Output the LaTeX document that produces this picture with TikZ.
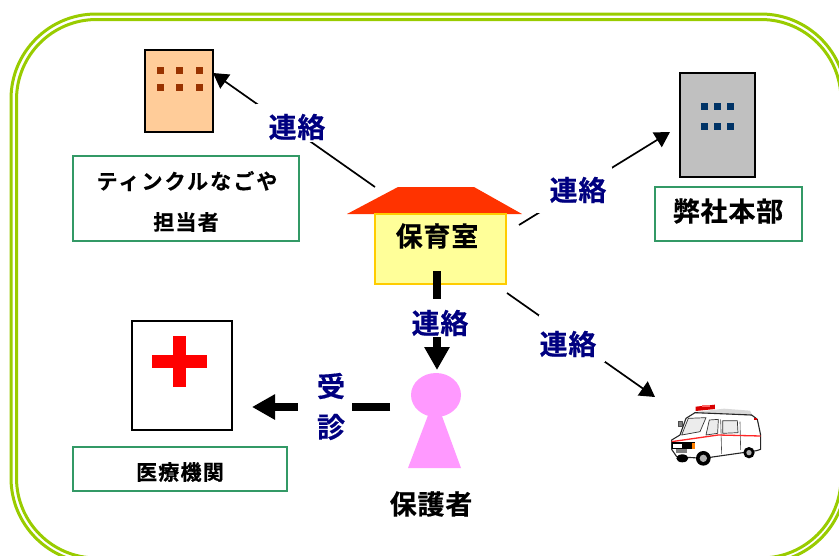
\documentclass[tikz,border=0pt]{standalone}
\usepackage{fontspec}
\usetikzlibrary{arrows.meta}
\newfontfamily\jp[LetterSpace=6,FakeBold=0.5]{Noto Sans CJK JP Bold}
\newfontfamily\jpw[LetterSpace=10,FakeBold=0.5]{Noto Sans CJK JP Bold}
\newfontfamily\jpn[LetterSpace=3,FakeBold=0.5]{Noto Sans CJK JP Bold}
\definecolor{frameg}{HTML}{99CC00}
\definecolor{boxg}{HTML}{339966}
\definecolor{roofc}{HTML}{FF3300}
\definecolor{wallc}{HTML}{FFFF99}
\definecolor{wallb}{HTML}{FFCC00}
\definecolor{peach}{HTML}{FFCC99}
\definecolor{brownd}{HTML}{993300}
\definecolor{grayb}{HTML}{C0C0C0}
\definecolor{blued}{HTML}{003366}
\definecolor{navyt}{HTML}{000080}
\definecolor{pinkp}{HTML}{FF99FF}
\tikzset{
  x=1pt,y=-1pt,
  labelbox/.style={draw=boxg,line width=1.6pt,fill=white,minimum width=#1,inner sep=0pt,outer sep=0pt,anchor=north west},
  building/.style={draw=black,line width=1.6pt,inner sep=0pt,outer sep=0pt,anchor=north west},
  txt/.style={font=\jp\fontsize{21}{21}\selectfont,text=black,inner sep=0pt},
  txtb/.style={font=\jpn\fontsize{27}{27}\selectfont,text=black,inner sep=0pt},
  rel/.style={font=\jpn\fontsize{28}{28}\selectfont,text=navyt,inner sep=0pt},
  thin link/.style={draw=black,line width=1.7pt,-{Triangle[length=15pt,width=17pt]}},
  thick link/.style={draw=black,line width=8pt,-{Triangle[length=23pt,width=24pt]}},
  frameline/.style={draw=frameg,line width=3pt},
  mask/.style={fill=white,draw=none},
}
\begin{document}
\begin{tikzpicture}
\useasboundingbox (0,0) rectangle (839,555);
\clip (0,0) rectangle (839,555);
% outer double frame
\draw[frameline,rounded corners=85pt] (11,14) rectangle (846,563);
\draw[frameline,rounded corners=80pt] (16.5,19.5) rectangle (841,558);
% Left building
\node[building,fill=peach,minimum width=68pt,minimum height=82pt] (tb) at (145,50) {};
\foreach \xx in {160,179,199}\foreach \yy in {70,87}
  \fill[brownd] (\xx-3.5,\yy-3.5) rectangle (\xx+3.5,\yy+3.5);
\node[labelbox=226pt,minimum height=85pt] (tbox) at (73,156) {};
\node[txt,font=\jpw\fontsize{21}{21}\selectfont] (t1) at (187,181) {ティンクルなごや};
\node[txt] (t2) at (186,222) {担当者};
% Right building
\node[building,fill=grayb,minimum width=75pt,minimum height=104pt] (hq) at (680,73) {};
\foreach \xx in {704,717,730}\foreach \yy in {106,126}
  \fill[blued] (\xx-3.5,\yy-3.5) rectangle (\xx+3.5,\yy+3.5);
\node[labelbox=147pt,minimum height=54pt] (hbox) at (655,187) {};
\node[txtb] (h1) at (728,211) {弊社本部};
% House
\fill[roofc] (347,214) -- (398,187) -- (474,187) -- (522,214) -- cycle;
\node[draw=wallb,line width=1.6pt,fill=wallc,minimum width=131pt,minimum height=70pt,inner sep=0pt,outer sep=0pt,anchor=north west] (house) at (375,214) {};
\node[txtb] (h2) at (437,236) {保育室};
% Hospital
\node[building,fill=white,minimum width=100pt,minimum height=109pt] (hosp) at (132,321) {};
\fill[red] (152,355) rectangle (207,368);
\fill[red] (173,336) rectangle (186,387);
\node[labelbox=214pt,minimum height=44pt] (hospbox) at (73,447) {};
\node[txt] (m1) at (180,472) {医療機関};
% Person
\fill[pinkp] (435,397) -- (461,468) -- (408,468) -- cycle;
\fill[pinkp] (436,395) ellipse[x radius=25,y radius=22];
\node[txtb] (p1) at (431,504) {保護者};
% connector ends
\coordinate (person) at (437,370);
\coordinate (personl) at (390,407);
\coordinate (a1) at (375,187); \coordinate (a2) at (213,73);
\coordinate (b1) at (519,225); \coordinate (b2) at (670,132);
\coordinate (c1) at (437,271);
\coordinate (d1) at (507,293); \coordinate (d2) at (655,397);
\coordinate (e2) at (252,407);
\draw[thin link] (a1) -- (a2);
\draw[thin link] (b1) -- (b2);
\draw[thin link] (d1) -- (d2);
\draw[thick link] (c1) -- (person);
\draw[thick link] (personl) -- (e2);
% white label backgrounds
\fill[mask] (256,104) rectangle (340,142);
\fill[mask] (537,167) rectangle (612,213);
\fill[mask] (415,299) rectangle (465,337);
\fill[mask] (539,315) rectangle (605,362);
\fill[mask] (298,380) rectangle (352,440);
\node[rel] (l1) at (297,127) {連絡};
\node[rel] (l2) at (578,190) {連絡};
\node[rel] (l3) at (440,323) {連絡};
\node[rel] (l4) at (568,344) {連絡};
\node[rel] (l5a) at (331,386) {受};
\node[rel] (l5b) at (331,427) {診};
% ambulance
\begin{scope}[shift={(650,390)},x=.3333pt,y=-.3333pt,line join=round]
\fill[white] (65,178) -- (65,150) -- (90,135) -- (108,85) -- (135,68) -- (305,75) -- (322,88) -- (332,135) -- (332,178) -- (160,205) -- (80,200) -- cycle;
\fill[gray!30] (135,66) -- (222,56) -- (300,62) -- (308,78) -- (230,72) -- (135,70) -- cycle;
\draw[black!85,line width=1.1pt] (65,178) -- (65,150) -- (90,135) -- (108,85) -- (135,68) -- (305,75) -- (322,88) -- (332,135) -- (332,178) -- (320,182) -- (160,205) -- (80,200) -- cycle;
\fill[red!85!black] (137,50) -- (195,44) -- (195,57) -- (137,63) -- cycle;
\fill[red!60] (155,45) rectangle (180,50);
\draw[black!80,fill=gray!15,line width=.7pt] (115,85) -- (168,83) -- (150,125) -- (95,135) -- cycle;
\draw[black!80,fill=gray!15,line width=.7pt] (178,90) -- (205,88) -- (203,130) -- (168,135) -- cycle;
\draw[black!80,fill=gray!15,line width=.7pt] (218,92) -- (262,92) -- (264,128) -- (218,130) -- cycle;
\draw[gray!60!black,line width=.6pt] (270,95) -- (272,180);
\draw[gray!60!black,line width=.6pt] (212,88) -- (215,192);
\draw[gray!60!black,fill=gray,line width=.4pt] (84,95) rectangle (96,110);
\draw[red!85,line width=1.3pt] (65,155) -- (205,135) -- (332,138);
\fill[black] (65,157) rectangle (135,178);
\fill[white] (70,161) rectangle (95,174);
\fill[orange] (126,160) rectangle (136,176);
\fill[gray] (78,178) rectangle (112,190);
\fill[black] (97,205) ellipse[x radius=18,y radius=12];
\fill[black] (160,205) circle[radius=22];
\fill[gray!60] (160,205) circle[radius=11];
\fill[black] (297,188) circle[radius=17];
\fill[gray!60] (297,188) circle[radius=8];
\fill[red!80!black] (312,83) rectangle (320,90);
\end{scope}
\end{tikzpicture}
\end{document}
